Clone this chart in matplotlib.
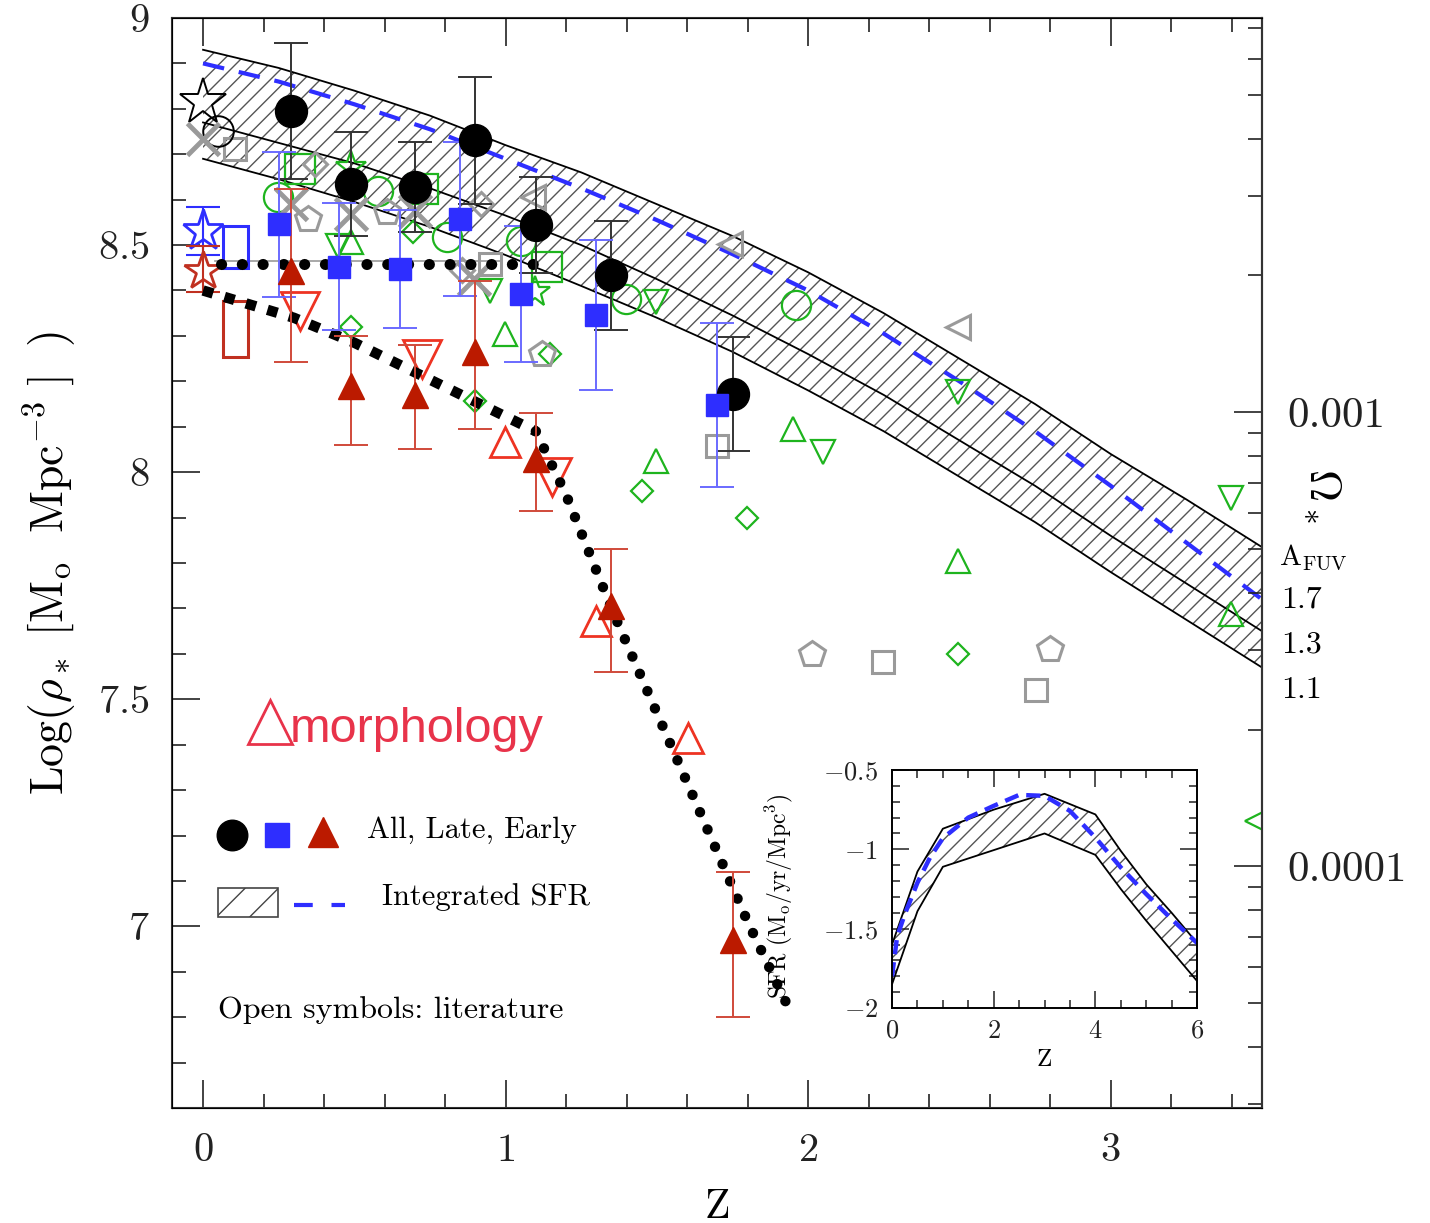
import numpy as np
import matplotlib
matplotlib.use('Agg')
import matplotlib.pyplot as plt
from matplotlib.patches import Rectangle
from matplotlib.ticker import MultipleLocator, LogLocator, NullFormatter, FuncFormatter

plt.rcParams.update({
    'mathtext.fontset': 'cm',
    'font.family': 'serif',
    'font.serif': ['cmr10', 'DejaVu Serif'],
    'axes.formatter.use_mathtext': True,
    'hatch.linewidth': 1.0,
})

# ---- this work: All / Late / Early
z_all = [0.29, 0.49, 0.70, 0.90, 1.10, 1.35, 1.75]
rho_all = [8.795, 8.634, 8.628, 8.731, 8.544, 8.434, 8.172]
err_all = [0.15, 0.115, 0.10, 0.14, 0.105, 0.12, 0.125]

z_late = [0.25, 0.45, 0.65, 0.85, 1.05, 1.30, 1.70]
rho_late = [8.546, 8.452, 8.447, 8.557, 8.392, 8.346, 8.148]
err_late = [0.16, 0.14, 0.13, 0.17, 0.15, 0.165, 0.18]

z_early = [0.29, 0.49, 0.70, 0.90, 1.10, 1.35, 1.75]
rho_early = [8.443, 8.19, 8.17, 8.265, 8.03, 7.705, 6.97]
err_early_lo = [0.20, 0.13, 0.12, 0.17, 0.115, 0.145, 0.17]
err_early_hi = [0.18, 0.11, 0.11, 0.155, 0.10, 0.125, 0.15]

# ---- integrated SFR band
z_band = [0, 0.25, 0.5, 0.75, 1.0, 1.25, 1.5, 1.75, 2.0, 2.25, 2.5, 2.75, 3.0, 3.25, 3.5]
band_hi = [8.93, 8.89, 8.84, 8.785, 8.72, 8.66, 8.59, 8.52, 8.44, 8.35, 8.25, 8.15, 8.04, 7.94, 7.835]
band_mid = [8.77, 8.725, 8.68, 8.625, 8.565, 8.50, 8.425, 8.345, 8.26, 8.17, 8.07, 7.97, 7.86, 7.755, 7.65]
band_lo = [8.69, 8.645, 8.595, 8.54, 8.478, 8.41, 8.34, 8.265, 8.18, 8.09, 7.99, 7.89, 7.78, 7.675, 7.57]
sfr_int = [8.90, 8.86, 8.81, 8.755, 8.69, 8.625, 8.555, 8.48, 8.40, 8.305, 8.20, 8.09, 7.97, 7.845, 7.72]
afuv_labels = ['1.7', '1.3', '1.1']

# ---- dotted trends
z_flat = [0.06, 1.10]
rho_flat = [8.458, 8.458]
z_trend1 = [0.0, 0.3, 0.5, 0.7, 0.9, 1.1]
rho_trend1 = [8.40, 8.34, 8.285, 8.22, 8.155, 8.09]
z_trend2 = [1.1, 1.2, 1.35, 1.5, 1.65, 1.8, 1.95]
rho_trend2 = [8.09, 7.95, 7.70, 7.47, 7.24, 7.01, 6.80]
z_grayline = [0.04, 0.98]
rho_grayline = [8.465, 8.465]

# ---- literature (open symbols)
z_blk_star, rho_blk_star = [0.0], [8.815]
z_blk_circ, rho_blk_circ = [0.05], [8.751]
z_gry_x = [0.0, 0.29, 0.49, 0.70, 0.895]
rho_gry_x = [8.733, 8.59, 8.568, 8.575, 8.425]
z_gry_sq = [0.105, 0.948, 1.698, 2.246, 2.752]
rho_gry_sq = [8.711, 8.458, 8.057, 7.581, 7.52]
z_gry_pent = [0.347, 0.608, 1.12, 2.012, 2.798]
rho_gry_pent = [8.557, 8.573, 8.26, 7.599, 7.61]
z_gry_dia = [0.37, 0.92, 0.855]
rho_gry_dia = [8.678, 8.59, 8.445]
z_gry_ltri = [1.09, 1.741, 2.494]
rho_gry_ltri = [8.606, 8.502, 8.319]

z_blu_star, rho_blu_star, err_blu_star = [0.0], [8.531], [0.053]
blu_box = (0.066, 0.149, 8.45, 8.542)
z_red_star, rho_red_star = [0.0], [8.443]
err_red_star_lo, err_red_star_hi = [0.047], [0.055]
red_box = (0.066, 0.149, 8.253, 8.377)
z_red_dtri = [0.32, 0.723, 1.153]
rho_red_dtri = [8.355, 8.249, 7.989]
z_red_utri = [0.998, 1.298, 1.602]
rho_red_utri = [8.066, 7.672, 7.414]

z_grn_circ = [0.248, 0.578, 0.806, 1.05, 1.397, 1.959]
rho_grn_circ = [8.606, 8.619, 8.518, 8.509, 8.381, 8.368]
z_grn_sq = [0.32, 0.727, 1.136]
rho_grn_sq = [8.667, 8.623, 8.452]
z_grn_star = [0.49, 0.70, 1.097]
rho_grn_star = [8.672, 8.623, 8.396]
z_grn_utri = [0.49, 0.998, 1.497, 1.949, 2.494, 3.399]
rho_grn_utri = [8.507, 8.304, 8.024, 8.095, 7.804, 7.687]
z_grn_dtri = [0.446, 0.948, 1.497, 2.048, 2.494, 3.399]
rho_grn_dtri = [8.498, 8.399, 8.374, 8.044, 8.176, 7.943]
z_grn_dia = [0.694, 0.49, 0.898, 1.146, 1.45, 1.797, 2.494]
rho_grn_dia = [8.529, 8.319, 8.156, 8.26, 7.958, 7.899, 7.599]
z_grn_ltri, rho_grn_ltri = [3.485], [7.231]

# ---- inset: SFR history
z_sfr = [0, 0.25, 0.5, 1, 2, 3, 4, 4.5, 5, 5.5, 6]
sfr_hi = [-1.60, -1.37, -1.14, -0.87, -0.75, -0.65, -0.78, -1.01, -1.22, -1.40, -1.59]
sfr_lo = [-1.85, -1.62, -1.39, -1.11, -1.005, -0.90, -1.035, -1.25, -1.45, -1.64, -1.83]
z_sfr_fit = [0, 0.1, 0.25, 0.5, 0.75, 1, 1.5, 2, 2.5, 3, 3.5, 4, 4.5, 5, 5.5, 6]
sfr_fit = [-1.80, -1.55, -1.41, -1.21, -1.05, -0.93, -0.80, -0.726, -0.657, -0.663,
           -0.758, -0.926, -1.114, -1.282, -1.44, -1.59]

OMEGA_OFFSET = 11.132   # log rho_* - log Omega_*

GREEN = '#1eb41e'
GRAY = '#9a9a9a'
BLUE = '#2e2eff'
DRED = '#bb1a00'
ORED = '#ee3322'

fmt_g = FuncFormatter(lambda v, p: '$%g$' % v)

fig = plt.figure(figsize=(14.3, 12.23), dpi=100)
ax = fig.add_axes([0.1203, 0.094, 0.7622, 0.8913])

# band
ax.fill_between(z_band, band_lo, band_hi, facecolor='none', edgecolor='#555555',
                hatch='//', linewidth=0, zorder=1)
for yb in (band_hi, band_mid, band_lo):
    ax.plot(z_band, yb, color='black', lw=1.3, zorder=2)
ax.plot(z_band, sfr_int, color=BLUE, lw=3, dashes=(5.2, 3.6), zorder=3)

# dotted trends
ax.plot(z_grayline, rho_grayline, color=GRAY, lw=1.2, zorder=3)
ax.plot(z_flat, rho_flat, color='black', lw=8, linestyle=(0, (0.01, 1.86)),
        dash_capstyle='round', zorder=6)
ax.plot(z_trend1, rho_trend1, color='black', lw=7.5, linestyle=(0, (1.0, 1.15)),
        dash_capstyle='butt', zorder=6)
ax.plot(z_trend2, rho_trend2, color='black', lw=7.5, linestyle=(0, (0.01, 1.8)),
        dash_capstyle='round', zorder=6)

def opn(z, r, m, c, ms, mew=1.6, zo=4):
    ax.plot(z, r, linestyle='none', marker=m, ms=ms, mfc='none', mec=c, mew=mew, zorder=zo)

# literature
opn(z_grn_circ, rho_grn_circ, 'o', GREEN, 21)
opn(z_grn_sq, rho_grn_sq, 's', GREEN, 22)
opn(z_grn_star, rho_grn_star, '*', GREEN, 23)
opn(z_grn_utri, rho_grn_utri, '^', GREEN, 17)
opn(z_grn_dtri, rho_grn_dtri, 'v', GREEN, 17)
opn(z_grn_dia, rho_grn_dia, 'D', GREEN, 11)
opn(z_grn_ltri, rho_grn_ltri, '<', GREEN, 17)
opn(z_gry_sq, rho_gry_sq, 's', GRAY, 16, 2.2)
opn(z_gry_pent, rho_gry_pent, 'p', GRAY, 19, 2.2)
opn(z_gry_dia, rho_gry_dia, 'D', GRAY, 12, 2.2)
opn(z_gry_ltri, rho_gry_ltri, '<', GRAY, 17, 2.2)
opn(z_gry_x, rho_gry_x, 'x', GRAY, 23, 3.5, 5)
opn(z_blk_star, rho_blk_star, '*', 'black', 35, 1.4)
opn(z_blk_circ, rho_blk_circ, 'o', 'black', 22, 1.4)
opn(z_red_dtri, rho_red_dtri, 'v', ORED, 27, 2)
opn(z_red_utri, rho_red_utri, '^', ORED, 21, 2)

ax.errorbar(z_blu_star, rho_blu_star, yerr=err_blu_star, fmt='none', ecolor=BLUE,
            elinewidth=1.5, capsize=12, capthick=1.5, zorder=4)
opn(z_blu_star, rho_blu_star, '*', BLUE, 31, 2)
ax.errorbar(z_red_star, rho_red_star, yerr=[err_red_star_lo, err_red_star_hi], fmt='none',
            ecolor='#c03020', elinewidth=1.5, capsize=12, capthick=1.5, zorder=4)
opn(z_red_star, rho_red_star, '*', '#c03020', 29, 2)
for box, col in ((blu_box, BLUE), (red_box, '#c03020')):
    ax.add_patch(Rectangle((box[0], box[2]), box[1] - box[0], box[3] - box[2],
                           fill=False, edgecolor=col, lw=2.2, zorder=4))

# this work
ax.errorbar(z_all, rho_all, yerr=err_all, fmt='none', ecolor='#333333',
            elinewidth=1.4, capsize=12, capthick=1.4, zorder=7)
ax.errorbar(z_late, rho_late, yerr=err_late, fmt='none', ecolor='#6a6aff',
            elinewidth=1.4, capsize=12, capthick=1.4, zorder=7)
ax.errorbar(z_early, rho_early, yerr=[err_early_lo, err_early_hi], fmt='none',
            ecolor='#d04a3a', elinewidth=1.4, capsize=12, capthick=1.4, zorder=7)
ax.plot(z_all, rho_all, 'o', color='black', ms=23, zorder=8)
ax.plot(z_late, rho_late, 's', color=BLUE, ms=16, zorder=8)
ax.plot(z_early, rho_early, '^', color=DRED, ms=19, zorder=8)

ax.set_xlim(-0.1025, 3.5)
ax.set_ylim(6.6, 9.0)
ax.xaxis.set_major_locator(MultipleLocator(1))
ax.xaxis.set_minor_locator(MultipleLocator(0.2))
ax.yaxis.set_major_locator(MultipleLocator(0.5))
ax.yaxis.set_minor_locator(MultipleLocator(0.1))
ax.xaxis.set_major_formatter(fmt_g)
ax.yaxis.set_major_formatter(fmt_g)
ax.tick_params(which='both', direction='in', top=True, right=False, width=1.2,
               labelsize=29, colors='#222222')
ax.tick_params(which='major', length=20)
ax.tick_params(which='minor', length=10)
ax.tick_params(axis='y', pad=16)
ax.tick_params(axis='x', pad=18)
for s in ax.spines.values():
    s.set_linewidth(1.5)
    s.set_color('#333333')
ax.set_xlabel('Z', fontsize=30, labelpad=14)
ax.set_ylabel(r'$\mathrm{Log}(\rho_*\ [\mathrm{M_o\ \ Mpc^{-3}}\ ]\ \ )$',
              fontsize=33, labelpad=14)

# right axis: Omega_*
ax2 = ax.twinx()
ax2.set_yscale('log')
ax2.set_ylim(10 ** (6.6 - OMEGA_OFFSET), 10 ** (9.0 - OMEGA_OFFSET))
ax2.set_yticks([1e-4, 1e-3], labels=['0.0001', '0.001'])
ax2.yaxis.set_minor_locator(LogLocator(base=10, subs=np.arange(2, 10)))
ax2.yaxis.set_minor_formatter(NullFormatter())
ax2.tick_params(which='both', direction='in', width=1.2, labelsize=31, pad=18, colors='#222222')
ax2.tick_params(which='major', length=20)
ax2.tick_params(which='minor', length=10)
ax2.spines['right'].set_linewidth(1.5)
ax2.spines['right'].set_color('#333333')
ax2.text(1.055, 0.562, r'$\Omega_*$', transform=ax.transAxes, fontsize=32,
         rotation=-90, ha='center', va='center')
ax2.text(1.016, 0.5055, r'$\mathrm{A_{FUV}}$', transform=ax.transAxes, fontsize=21,
         ha='left', va='center')
for lab, yy in zip(afuv_labels, (0.466, 0.425, 0.3835)):
    ax2.text(1.018, yy, lab, transform=ax.transAxes, fontsize=23, ha='left', va='center')

# morphology tag
ax.plot([0.0899], [0.354], '^', transform=ax.transAxes, ms=32, mfc='none',
        mec='#e8334a', mew=2, clip_on=False)
ax.text(0.108, 0.347, 'morphology', transform=ax.transAxes, color='#e8334a',
        fontsize=35, family='Liberation Sans', ha='left', va='center')

# legend (drawn by hand)
ax.plot([0.055], [0.2505], 'o', color='black', ms=22, transform=ax.transAxes)
ax.plot([0.0963], [0.2505], 's', color=BLUE, ms=17, transform=ax.transAxes)
ax.plot([0.1385], [0.253], '^', color=DRED, ms=21, transform=ax.transAxes)
ax.text(0.179, 0.255, 'All, Late, Early', transform=ax.transAxes, fontsize=22,
        ha='left', va='center')
ax.add_patch(Rectangle((0.0422, 0.1752), 0.055, 0.0266, transform=ax.transAxes,
                       facecolor='none', edgecolor='#444444', hatch='/', lw=1.2))
ax.plot([0.112, 0.159], [0.1862, 0.1862], color=BLUE, lw=3, dashes=(4.5, 4.5),
        transform=ax.transAxes)
ax.text(0.1927, 0.1936, 'Integrated SFR', transform=ax.transAxes, fontsize=22,
        ha='left', va='center')
ax.text(0.0422, 0.0899, 'Open symbols: literature', transform=ax.transAxes, fontsize=23,
        ha='left', va='center')

# inset
axi = fig.add_axes([0.6238, 0.1758, 0.2133, 0.1946])
axi.fill_between(z_sfr, sfr_lo, sfr_hi, facecolor='none', edgecolor='#555555',
                 hatch='//', linewidth=0)
axi.plot(z_sfr, sfr_hi, color='black', lw=1.3)
axi.plot(z_sfr, sfr_lo, color='black', lw=1.3)
axi.plot(z_sfr_fit, sfr_fit, color=BLUE, lw=3.2, dashes=(3.2, 1.8))
axi.set_xlim(0, 6)
axi.set_ylim(-2, -0.5)
axi.xaxis.set_major_locator(MultipleLocator(2))
axi.xaxis.set_minor_locator(MultipleLocator(0.5))
axi.yaxis.set_major_locator(MultipleLocator(0.5))
axi.yaxis.set_minor_locator(MultipleLocator(0.1))
axi.xaxis.set_major_formatter(fmt_g)
axi.yaxis.set_major_formatter(fmt_g)
axi.tick_params(which='both', direction='in', top=True, right=True, width=1.1,
                labelsize=19, colors='#222222')
axi.tick_params(which='major', length=12)
axi.tick_params(which='minor', length=6)
axi.tick_params(axis='y', pad=10)
axi.tick_params(axis='x', pad=8)
for s in axi.spines.values():
    s.set_linewidth(1.4)
axi.set_xlabel('Z', fontsize=18, labelpad=4)
axi.set_ylabel(r'SFR $(\mathrm{M_o/yr/Mpc^3})$', fontsize=17)
axi.yaxis.set_label_coords(-0.318, 0.47)

fig.savefig('out.png', dpi=100)
